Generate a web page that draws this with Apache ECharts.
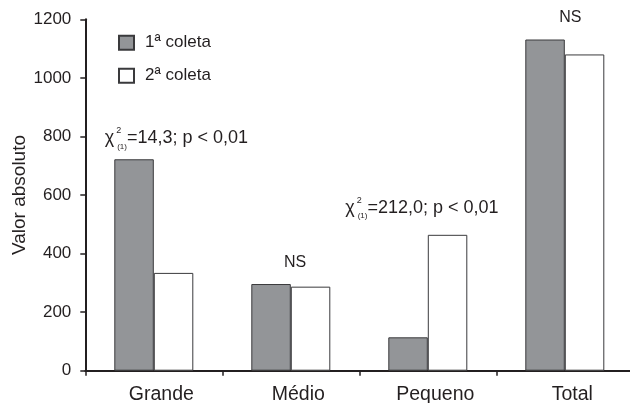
<!DOCTYPE html>
<html>
<head>
<meta charset="utf-8">
<script src="https://cdn.jsdelivr.net/npm/echarts@6/dist/echarts.min.js"></script>
<style>
html,body{margin:0;padding:0;background:#fff;}
#chart{width:630px;height:403px;}
</style>
</head>
<body>
<div id="chart"></div>
<script>
// ---- data ----
var categories = ['Grande', 'Médio', 'Pequeno', 'Total'];
var seriesNames = ['1ª coleta', '2ª coleta'];
var coleta1 = [722, 296, 114, 1131];
var coleta2 = [334, 287, 464, 1080];
var yTicks = [0, 200, 400, 600, 800, 1000, 1200];
var yAxisName = 'Valor absoluto';
var chiTexts = ['=14,3; p < 0,01', '=212,0; p < 0,01'];
var nsText = 'NS';

var FONT = '"Liberation Sans", Arial, Helvetica, sans-serif';
var INK = '#231f20';
var chart = echarts.init(document.getElementById('chart'), null, {renderer: 'canvas'});

function chiLabel(t) {
  return '{c|χ}{sup|2}{sub|(1)}{t|' + t + '}';
}
var chiRich = {
  c: {fontSize: 18, fontFamily: FONT, color: INK, verticalAlign: 'middle', lineHeight: 24},
  sup: {fontSize: 9, fontFamily: FONT, color: INK, width: 0, verticalAlign: 'top', lineHeight: 8, padding: [0, 0, 0, 2]},
  sub: {fontSize: 8, fontFamily: FONT, color: INK, verticalAlign: 'bottom', lineHeight: 20, padding: [0, 0, 0, 1]},
  t: {fontSize: 18, fontFamily: FONT, color: INK, verticalAlign: 'middle', lineHeight: 24}
};
var chiLabelBase = {rich: chiRich, position: [0, 0], align: 'left', verticalAlign: 'top'};
var nsLabelBase = {fontSize: 16, fontFamily: FONT, color: INK};

var option = {
  animation: false,
  backgroundColor: '#ffffff',
  textStyle: {fontFamily: FONT, color: INK},
  grid: {left: 85.3, top: 19.3, width: 548, bottom: 32.3, containLabel: false, outerBoundsMode: 'none'},
  legend: {
    data: seriesNames,
    orient: 'vertical',
    left: 118,
    top: 33.7,
    padding: 0,
    itemWidth: 15,
    itemHeight: 14,
    itemGap: 15,
    icon: 'rect',
    textStyle: {fontSize: 17, fontFamily: FONT, color: INK, lineHeight: 18, padding: [0, 0, 0, 6]}
  },
  xAxis: {
    type: 'category',
    data: categories,
    axisLine: {lineStyle: {color: INK, width: 2}},
    axisTick: {show: true, length: 5, lineStyle: {color: INK, width: 1.5}},
    axisLabel: {fontSize: 19.5, fontFamily: FONT, color: INK, margin: 14, padding: [0, 0, 0, 15]}
  },
  yAxis: {
    type: 'value',
    min: yTicks[0],
    max: yTicks[yTicks.length - 1],
    interval: yTicks[1] - yTicks[0],
    name: yAxisName,
    nameLocation: 'middle',
    nameRotate: 90,
    nameGap: 56,
    nameMoveOverlap: false,
    nameTextStyle: {fontSize: 19, fontFamily: FONT, color: INK},
    splitLine: {show: false},
    axisLine: {show: true, lineStyle: {color: INK, width: 2}},
    axisTick: {show: true, length: 5, lineStyle: {color: INK, width: 1.5}},
    axisLabel: {fontSize: 17, fontFamily: FONT, color: INK, margin: 14, formatter: function (v) { return String(v); }}
  },
  series: [
    {
      name: seriesNames[0],
      type: 'bar',
      data: coleta1,
      barWidth: 39.5,
      barGap: '0%',
      itemStyle: {color: '#939598', borderColor: '#3a3a3c', borderWidth: 1}
    },
    {
      name: seriesNames[1],
      type: 'bar',
      data: coleta2,
      barWidth: 39.5,
      barGap: '0%',
      itemStyle: {color: '#ffffff', borderColor: '#3a3a3c', borderWidth: 1},
      markPoint: {
        symbol: 'circle',
        symbolSize: 0,
        silent: true,
        itemStyle: {color: 'rgba(0,0,0,0)'},
        label: {show: true, position: 'inside'},
        data: [
          {coord: [categories[0], 800], label: Object.assign({formatter: chiLabel(chiTexts[0]), offset: [-68.8, -10]}, chiLabelBase)},
          {coord: [categories[2], 560], label: Object.assign({formatter: chiLabel(chiTexts[1]), offset: [-102.3, -10.7]}, chiLabelBase)},
          {coord: [categories[1], 368], label: Object.assign({formatter: nsText, offset: [-15.4, 0]}, nsLabelBase)},
          {coord: [categories[3], 1200], label: Object.assign({formatter: nsText, offset: [-14.2, -2]}, nsLabelBase)}
        ]
      }
    }
  ]
};
chart.setOption(option);
</script>
</body>
</html>
